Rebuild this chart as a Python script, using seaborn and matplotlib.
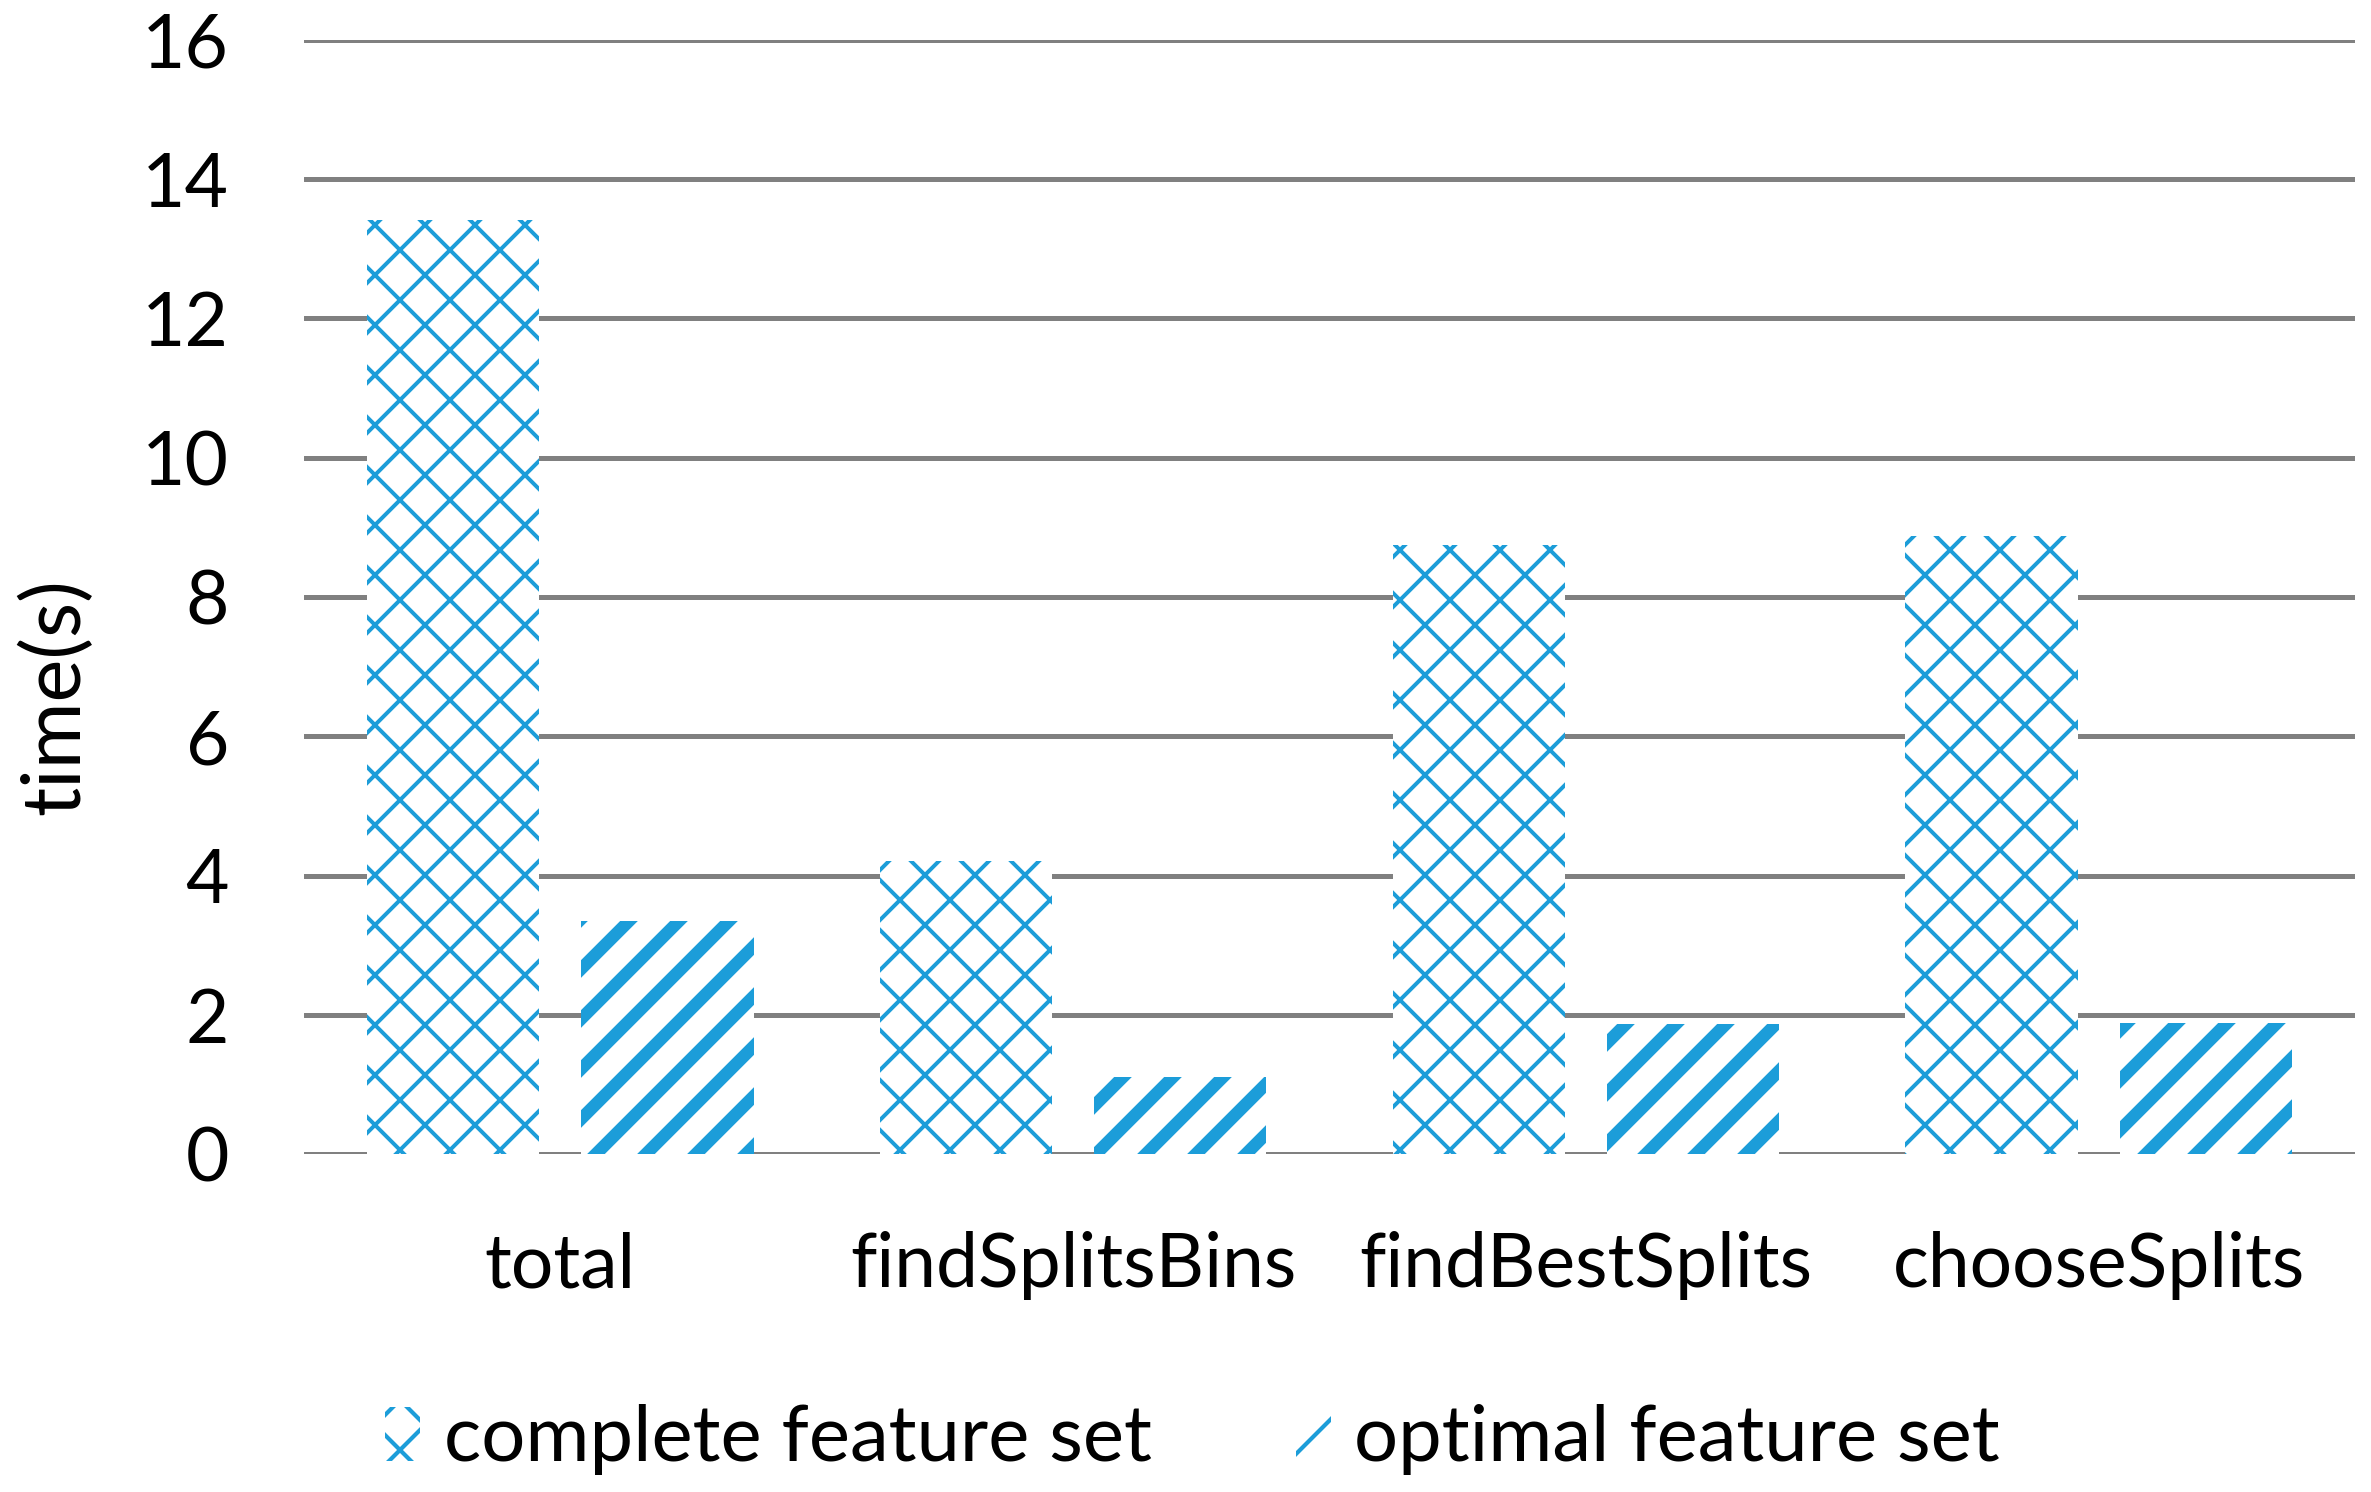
import matplotlib
matplotlib.use("Agg")
import matplotlib.pyplot as plt
from matplotlib.patches import Patch
import seaborn as sns
import pandas as pd

# ---- data ----
categories = ["total", "findSplitsBins", "findBestSplits", "chooseSplits"]
series_names = ["complete feature set", "optimal feature set"]
complete_vals = [13.42, 4.21, 8.74, 8.87]
optimal_vals = [3.34, 1.11, 1.87, 1.88]
y_ticks = [0, 2, 4, 6, 8, 10, 12, 14, 16]
y_label = "time(s)"

BLUE = "#1C9DD9"
GRID = "#808080"
FONT = "Lato"

df = pd.DataFrame({
    "category": categories * 2,
    "time": complete_vals + optimal_vals,
    "set": [series_names[0]] * len(categories) + [series_names[1]] * len(categories),
})

sns.set_theme(style="white")
plt.rcParams["font.family"] = [FONT, "DejaVu Sans"]
plt.rcParams["hatch.linewidth"] = 1.0
plt.rcParams["text.color"] = "black"
plt.rcParams["axes.labelcolor"] = "black"

DPI = 300
fig = plt.figure(figsize=(2371 / DPI, 1492 / DPI), dpi=DPI)
ax = fig.add_axes([304 / 2371, 1 - 1154 / 1492, (2355 - 304) / 2371, (1154 - 40) / 1492])

sns.barplot(data=df, x="category", y="time", hue="set", order=categories,
            hue_order=series_names, palette=["white", "white"], saturation=1,
            width=0.836, gap=0.196, errorbar=None, edgecolor=BLUE, linewidth=0,
            legend=False, ax=ax)

hatches = ["xx", "//"]
hlw = [0.95, 3.0]
for cont, h, lw in zip(ax.containers, hatches, hlw):
    for bar in cont:
        bar.set_hatch(h)
        bar.set_edgecolor(BLUE)
        bar.set_linewidth(0)
        if hasattr(bar, "set_hatch_linewidth"):
            bar.set_hatch_linewidth(lw)
        else:
            bar._hatch_linewidth = lw

ax.set_ylim(0, 16)
ax.set_yticks(y_ticks)
ax.set_xlim(-0.5, len(categories) - 0.5)
ax.yaxis.grid(True, color=GRID, linewidth=1.2)
ax.xaxis.grid(False)
ax.set_axisbelow(True)
for s in ax.spines.values():
    s.set_visible(False)
ax.tick_params(axis="both", length=0, labelsize=18, colors="black")
ax.tick_params(axis="y", pad=18)
ax.tick_params(axis="x", pad=18.5)
ax.set_xlabel("")
ax.set_ylabel(y_label, fontsize=19.5, va="center", color="black")
ax.yaxis.set_label_coords((56 - 304) / 2051, (1154 - 697) / 1114)

handles = []
for h, lw in zip(hatches, hlw):
    p = Patch(facecolor="white", edgecolor=BLUE, linewidth=0, hatch=h)
    if hasattr(p, "set_hatch_linewidth"):
        p.set_hatch_linewidth(lw)
    else:
        p._hatch_linewidth = lw
    handles.append(p)
fig.legend(handles, series_names, loc="center", bbox_to_anchor=(0.503, 0.035),
           ncol=2, frameon=False, fontsize=18.7, handlelength=0.45, handleheight=0.7,
           handletextpad=0.3, columnspacing=1.85, labelcolor="black")

fig.savefig("out.png", dpi=DPI, facecolor="white")
